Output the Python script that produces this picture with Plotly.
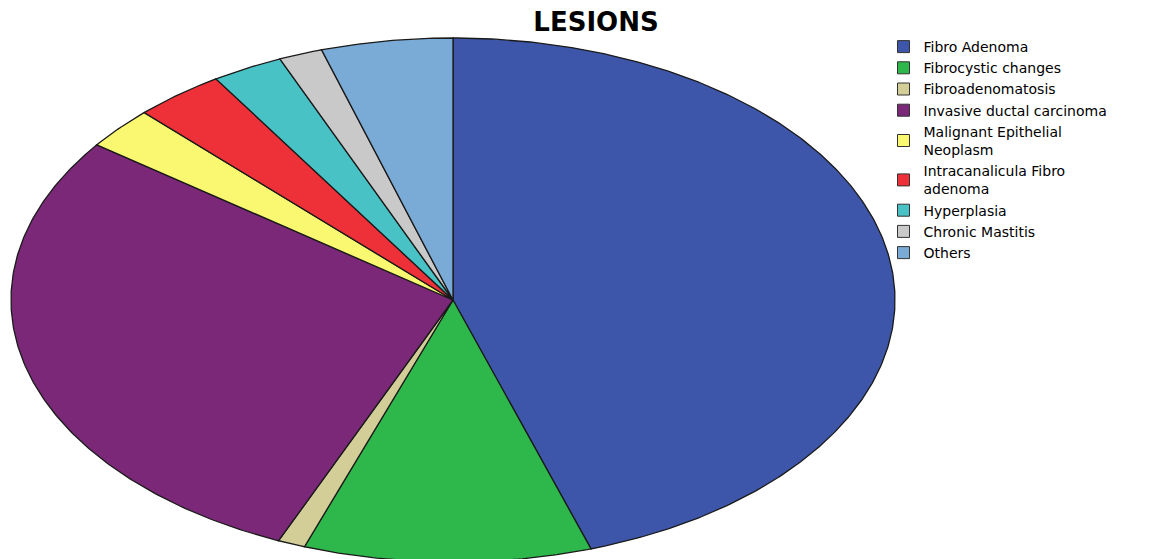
import numpy as np
import plotly.graph_objects as go

# ---- data ----
categories = [
    "Fibro Adenoma",
    "Fibrocystic changes",
    "Fibroadenomatosis",
    "Invasive ductal carcinoma",
    "Malignant Epithelial<br>Neoplasm",
    "Intracanalicula Fibro<br>adenoma",
    "Hyperplasia",
    "Chronic Mastitis",
    "Others",
]
percent = [44.9, 10.5, 1.0, 28.6, 2.6, 3.3, 2.6, 1.6, 4.8]
colors = ["#3D56A9", "#2EB84B", "#D3CE98", "#7B2878", "#FAF870",
          "#EE3038", "#48C2C5", "#C9C9C9", "#7AAAD6"]

# ---- build slices (clockwise from 12 o'clock on a unit circle; the
#      axis scales stretch it into the ellipse of the original) ----
vals = np.array(percent, dtype=float)
frac = vals / vals.sum()
ends = np.cumsum(frac) * 2 * np.pi
starts = ends - frac * 2 * np.pi

fig = go.Figure()
for name, s, e, c in zip(categories, starts, ends, colors):
    n = max(int((e - s) / (2 * np.pi) * 720), 8)
    t = np.linspace(s, e, n)
    xs = np.concatenate([[0.0], np.sin(t), [0.0]])
    ys = np.concatenate([[0.0], np.cos(t), [0.0]])
    fig.add_trace(go.Scatter(
        x=xs, y=ys, mode="lines", fill="toself", fillcolor=c,
        line=dict(color="#1a1a1a", width=1.3), name=name,
        hoverinfo="name", showlegend=False, legendgroup=name,
    ))

# legend entries with square swatches
for name, c in zip(categories, colors):
    fig.add_trace(go.Scatter(
        x=[None], y=[None], mode="markers", name=name, legendgroup=name,
        marker=dict(symbol="square", size=12, color=c,
                    line=dict(color="#333333", width=1)),
        showlegend=True,
    ))

W, H = 1168, 559
off = 8  # page body margin
cx, cy, rx, ry = 453 - off, 300 - off, 442, 262
fig.update_layout(
    width=W, height=H,
    margin=dict(l=0, r=0, t=0, b=0),
    paper_bgcolor="white", plot_bgcolor="white",
    title=dict(text="<b>LESIONS</b>", x=(596 - off) / W, xanchor="center",
               y=1 - (22 - off) / H, yanchor="middle",
               font=dict(family="DejaVu Sans", size=26, color="black")),
    xaxis=dict(range=[(0 - cx) / rx, (W - cx) / rx], visible=False, fixedrange=True),
    yaxis=dict(range=[(cy - H) / ry, cy / ry], visible=False, fixedrange=True),
    showlegend=True,
    legend=dict(x=(883.5 - off) / W, y=1 - (31 - off) / H, xanchor="left", yanchor="top",
                font=dict(family="DejaVu Sans", size=14, color="black"),
                itemwidth=30, bgcolor="rgba(0,0,0,0)", tracegroupgap=0,
                traceorder="normal"),
)

fig.write_html("out.html")
